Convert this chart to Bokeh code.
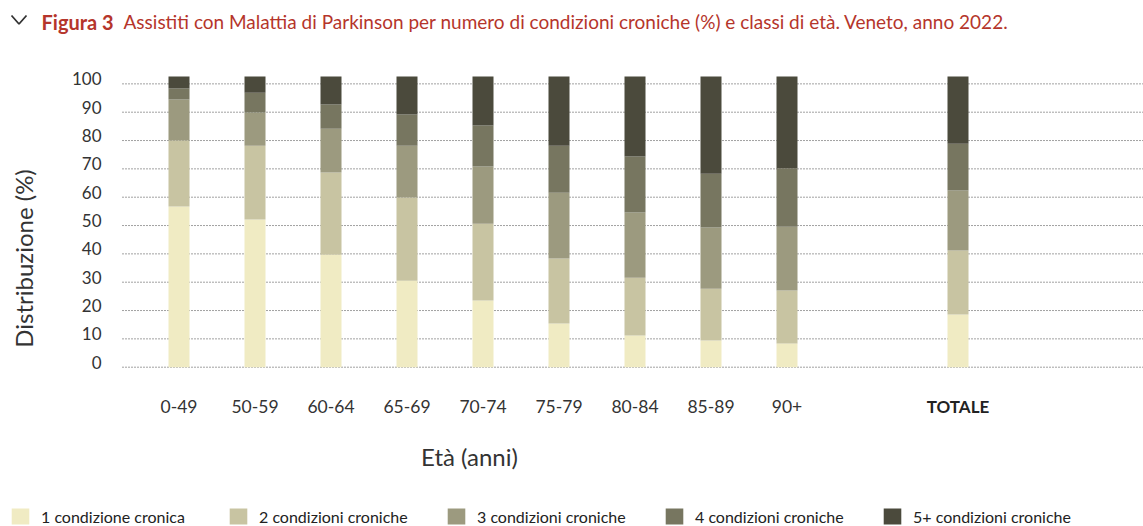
from bokeh.plotting import figure
from bokeh.models import Range1d, Label, Legend, LegendItem, ColumnDataSource
from bokeh.core.properties import value
from bokeh.embed import file_html
from bokeh.resources import INLINE
import math

# ---- data (axis units) ----
categories = ["0-49", "50-59", "60-64", "65-69", "70-74", "75-79",
              "80-84", "85-89", "90+", "TOTALE"]
cond1 = [56.7, 52.1, 39.7, 30.5, 23.5, 15.4, 11.2, 9.4, 8.4, 18.6]
cond2 = [23.3, 26.1, 29.0, 29.4, 27.1, 23.0, 20.4, 18.3, 18.7, 22.6]
cond3 = [14.5, 11.7, 15.5, 18.3, 20.2, 23.2, 23.0, 21.6, 22.5, 21.2]
cond4 = [3.9, 7.0, 8.5, 11.0, 14.5, 16.6, 19.8, 19.0, 20.6, 16.5]
cond5 = [4.2, 5.7, 9.9, 13.4, 17.3, 24.4, 28.2, 34.3, 32.4, 23.7]
series_names = ["1 condizione cronica", "2 condizioni croniche",
                "3 condizioni croniche", "4 condizioni croniche",
                "5+ condizioni croniche"]
colors = ["#f0ebc3", "#c8c4a2", "#9c9a7f", "#777660", "#4b4a3c"]
y_ticks = [0, 10, 20, 30, 40, 50, 60, 70, 80, 90, 100]

# ---- layout (canvas pixels -> data units) ----
W, H = 1143, 526
X0_PX, X_STEP = 178.5, 76.0      # first category centre, category spacing
Y0_PX, Y_STEP = 366.7, 2.8333    # y=0 pixel row, pixels per unit


def dx(px):
    return (px - X0_PX) / X_STEP


def dy(py):
    return (Y0_PX - py) / Y_STEP


# x positions: age classes side by side, TOTALE set apart
xpos = [float(i) for i in range(len(categories) - 1)] + [len(categories) - 1 + 1.25]

FONT = "Lato"
TXT = "#333333"
RED = "#b5352b"

p = figure(width=W, height=H, output_backend="svg", toolbar_location=None,
           x_range=Range1d(dx(0), dx(W)), y_range=Range1d(dy(H), dy(0)),
           min_border=0, x_axis_type=None, y_axis_type=None)
p.outline_line_color = None
p.background_fill_color = "white"
p.border_fill_color = "white"
p.grid.visible = False

# dotted horizontal grid lines
p.segment(x0=[dx(122)] * len(y_ticks), x1=[dx(W)] * len(y_ticks), y0=y_ticks, y1=y_ticks,
          line_color="#444444", line_dash="1 2", line_width=1)

src = ColumnDataSource(dict(x=xpos, c1=cond1, c2=cond2, c3=cond3, c4=cond4, c5=cond5))
renderers = p.vbar_stack(["c1", "c2", "c3", "c4", "c5"], x="x", width=21 / X_STEP,
                         color=colors, line_color=None, source=src)

# y tick labels
p.text(x=[dx(101)] * len(y_ticks), y=y_ticks, text=[str(t) for t in y_ticks],
       text_font=value(FONT), text_font_size="17px", text_color=TXT,
       text_align="right", text_baseline="middle", y_offset=-5)

# x tick labels
p.text(x=xpos[:-1], y=[dy(406)] * (len(categories) - 1), text=categories[:-1],
       text_font=value(FONT), text_font_size="17.5px", text_color=TXT,
       text_align="center", text_baseline="middle")
p.text(x=xpos[-1:], y=[dy(406)], text=categories[-1:],
       text_font=value(FONT), text_font_style="bold", text_font_size="17px",
       text_color="#222222", text_align="center", text_baseline="middle")

# axis titles
p.add_layout(Label(x=dx(469), y=dy(456), text="Età (anni)",
                   text_font=FONT, text_font_size="24px", text_color=TXT,
                   text_align="center", text_baseline="middle"))
p.add_layout(Label(x=dx(23), y=dy(258), text="Distribuzione (%)", angle=math.pi / 2,
                   text_font=FONT, text_font_size="24px", text_color=TXT,
                   text_align="center", text_baseline="middle"))

# title: collapse chevron icon + caption
p.line(x=[dx(11), dx(18.5), dx(26)], y=[dy(15), dy(23.5), dy(15)],
       line_color="#333333", line_width=1.8)
p.add_layout(Label(x=dx(41), y=dy(21), text="Figura 3",
                   text_font=FONT, text_font_style="bold", text_font_size="20px",
                   text_color=RED, text_align="left", text_baseline="middle"))
p.add_layout(Label(x=dx(123), y=dy(21),
                   text="Assistiti con Malattia di Parkinson per numero di condizioni croniche (%) e classi di età. Veneto, anno 2022.",
                   text_font=FONT, text_font_size="19px",
                   text_color=RED, text_align="left", text_baseline="middle"))

# legend
legend = Legend(items=[LegendItem(label=series_names[i], renderers=[renderers[i]])
                       for i in range(5)],
                orientation="horizontal", location=(9, 0),
                glyph_width=22, glyph_height=20, label_height=20, label_width=165,
                label_standoff=10, spacing=21, padding=0, margin=0,
                border_line_color=None, background_fill_alpha=0,
                label_text_font=FONT, label_text_font_size="16px",
                label_text_color="#222222")
p.add_layout(legend)

open("out.html", "w").write(file_html(p, INLINE))
